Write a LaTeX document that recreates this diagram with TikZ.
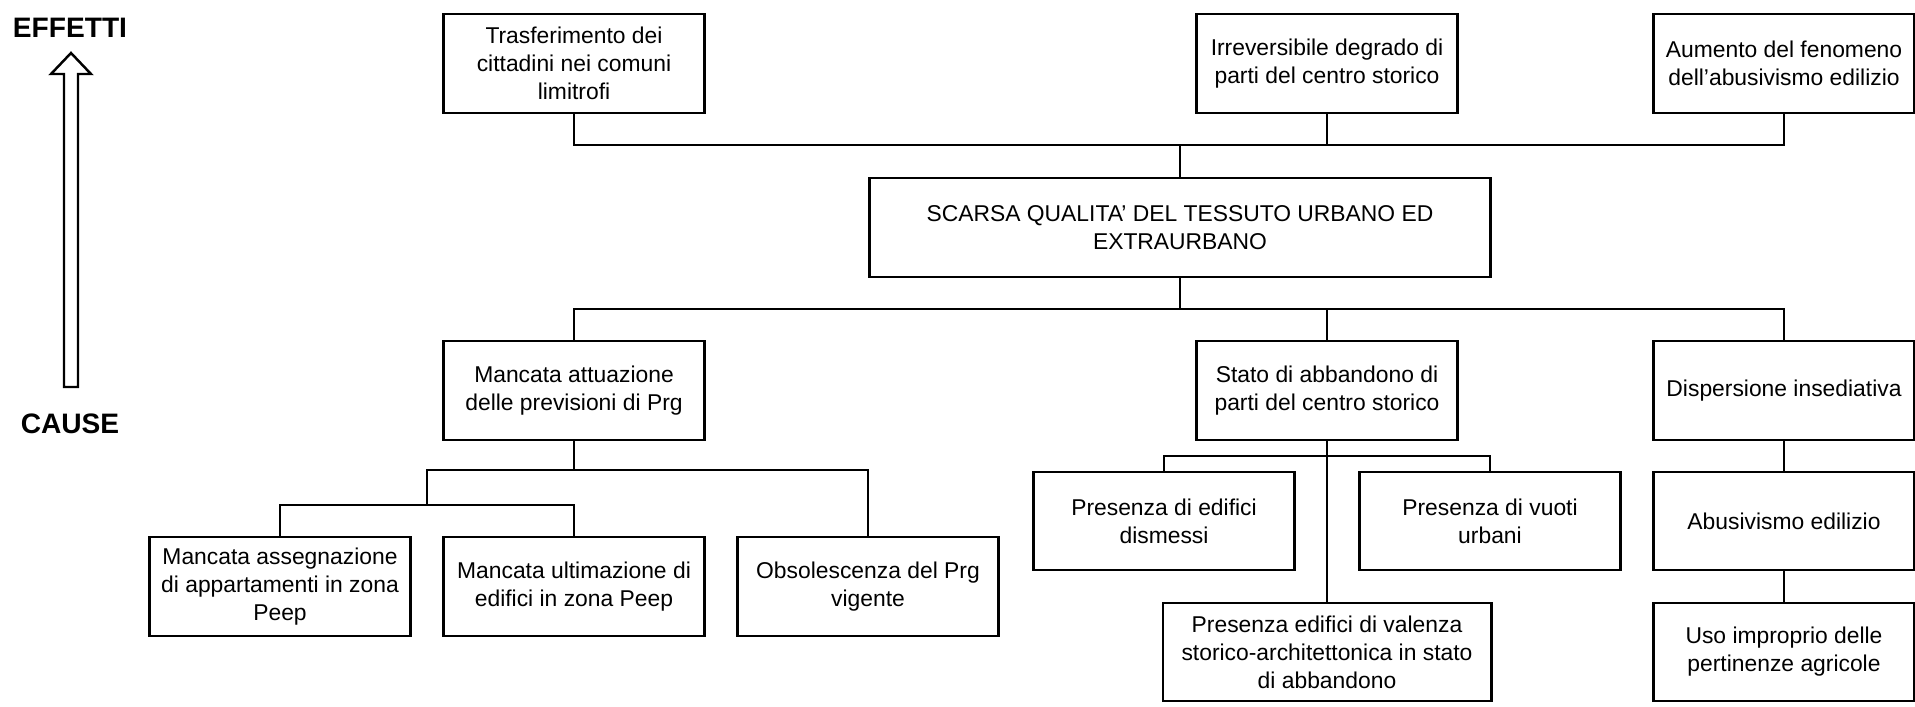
\documentclass[tikz,border=0pt]{standalone}
\usepackage{fontspec}
\setmainfont{Liberation Sans}
\usepackage{tikz}

\tikzset{
  casella/.style={draw, line width=0.8pt, minimum width=2.61cm, minimum height=0.99cm, inner sep=0pt, align=center, font=\fontsize{6.5}{8}\selectfont},
  filo/.style={line width=0.7pt},
  titolo/.style={font=\fontsize{8}{9}\selectfont\bfseries}
}

\begin{document}
\begin{tikzpicture}[x=0.01cm,y=-0.01cm]
\useasboundingbox (0,0) rectangle (1915,706);

\coordinate (bustop) at (1180,145);
\coordinate (busmid) at (1180,309);
\coordinate (busA) at (574,470);
\coordinate (busB) at (427,505);
\coordinate (busS) at (1327,456);

\node[titolo] (effetti) at (70,28) {EFFETTI};
\node[titolo] (cause) at (70,424) {CAUSE};
\draw [line width=0.7pt, fill=white] (64,387) -- (64,74) -- (51,74) -- (71,53) -- (91,74) -- (78,74) -- (78,387) -- cycle;

\node[casella] (trasf) at (574,63.5) {Trasferimento dei\\cittadini nei comuni\\limitrofi};
\node[casella] (irrev) at (1327,63.5) {Irreversibile degrado di\\parti del centro storico};
\node[casella] (aumento) at (1784,63.5) {Aumento del fenomeno\\dell'abusivismo edilizio};

\node[casella, minimum width=6.21cm] (centro) at (1180,227.5) {SCARSA QUALITA' DEL TESSUTO URBANO ED\\EXTRAURBANO};

\node[casella] (attuaz) at (574,390.5) {Mancata attuazione\\delle previsioni di Prg};
\node[casella] (stato) at (1327,390.5) {Stato di abbandono di\\parti del centro storico};
\node[casella] (disp) at (1784,390.5) {Dispersione insediativa};

\node[casella] (assegn) at (280,586.5) {Mancata assegnazione\\di appartamenti in zona\\Peep};
\node[casella] (ultim) at (574,586.5) {Mancata ultimazione di\\edifici in zona Peep};
\node[casella] (obsol) at (868,586.5) {Obsolescenza del Prg\\vigente};

\node[casella, minimum height=0.98cm] (dism) at (1164,521) {Presenza di edifici\\dismessi};
\node[casella, minimum height=0.98cm] (vuoti) at (1490,521) {Presenza di vuoti\\urbani};
\node[casella, minimum width=3.28cm, minimum height=0.98cm] (valenza) at (1327,652) {Presenza edifici di valenza\\storico-architettonica in stato\\di abbandono};

\node[casella, minimum height=0.98cm] (abus) at (1784,521) {Abusivismo edilizio};
\node[casella, minimum height=0.98cm] (uso) at (1784,652) {Uso improprio delle\\pertinenze agricole};

\draw [filo] (trasf.south) |- (bustop) -| (aumento.south);
\draw [filo] (irrev.south) -- (irrev.south |- bustop);
\draw [filo] (bustop) -- (centro.north);

\draw [filo] (centro.south) -- (busmid);
\draw [filo] (attuaz.north) |- (busmid) -| (disp.north);
\draw [filo] (stato.north) -- (stato.north |- busmid);

\draw [filo] (attuaz.south) -- (busA);
\draw [filo] (busB) -- (busB |- busA) -| (obsol.north);
\draw [filo] (assegn.north) |- (busB) -| (ultim.north);

\draw [filo] (stato.south) -- (valenza.north);
\draw [filo] (dism.north) |- (busS) -| (vuoti.north);

\draw [filo] (disp.south) -- (abus.north);
\draw [filo] (abus.south) -- (uso.north);

\end{tikzpicture}
\end{document}
